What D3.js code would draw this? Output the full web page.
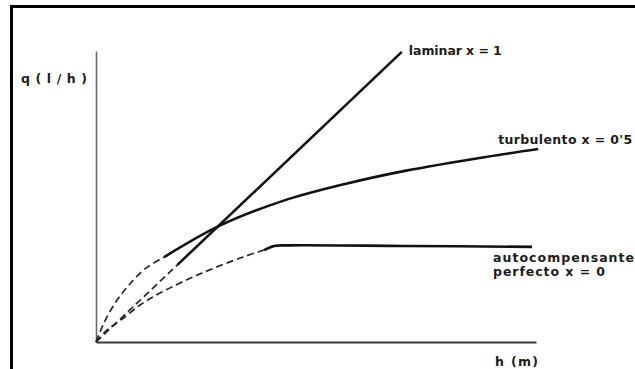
<!DOCTYPE html>
<html>
<head>
<meta charset="utf-8">
<script src="https://cdn.jsdelivr.net/npm/d3@7"></script>
<style>
  html, body { margin: 0; padding: 0; background: #fff; }
  svg { display: block; }
  text { font-family: "DejaVu Sans", sans-serif; font-weight: bold; fill: #1c1c1c; }
</style>
</head>
<body>
<svg id="chart" width="635" height="369"></svg>
<script>
// Caudal q (l/h) frente a presión h (m) para tres tipos de emisor.
// Each curve: dashed start near the origin, then the solid working range.
const laminarDashed = [[0, 0], [1.85, 2.65]];
const laminarSolid  = [[1.85, 2.65], [6.95, 9.97]];

const turbulentDashed = [[0, 0], [0.09, 0.34], [0.25, 0.86], [0.48, 1.44], [0.75, 1.96],
                         [1.11, 2.51], [1.55, 2.92]];
const turbulentSolid  = [[1.55, 2.92], [2.80, 3.99], [4.25, 4.85], [5.66, 5.43],
                         [7.02, 5.88], [8.86, 6.36], [10.05, 6.63]];

const autoDashed = [[0, 0], [0.25, 0.41], [0.57, 0.76], [1.0, 1.27], [1.5, 1.72],
                    [2.41, 2.37], [3.34, 2.92], [3.82, 3.16]];
const autoSolid  = [[3.82, 3.16], [4.05, 3.30], [4.4, 3.32], [7.0, 3.30], [9.91, 3.27]];

const curveLabels = ["laminar  x = 1", "turbulento  x = 0'5", "autocompensante", "perfecto  x = 0"];
const axisTitles = { y: "q ( l / h )", x: "h  (m)" };

const svg = d3.select("#chart");

// page frame
svg.append("rect")
  .attr("x", 11.5).attr("y", 6.5)
  .attr("width", 700).attr("height", 500)
  .attr("fill", "none").attr("stroke", "#000").attr("stroke-width", 3);

const x = d3.scaleLinear().domain([0, 10]).range([96, 536]);
const y = d3.scaleLinear().domain([0, 10]).range([342, 51]);

// axes without ticks
const gx = svg.append("g").attr("transform", `translate(0,${y(0)})`)
  .call(d3.axisBottom(x).tickValues([]).tickSizeOuter(0));
gx.select(".domain").attr("stroke", "#3a3a3a").attr("stroke-width", 2);

const gy = svg.append("g").attr("transform", `translate(${x(0)},0)`)
  .call(d3.axisLeft(y).tickValues([]).tickSizeOuter(0));
gy.select(".domain").attr("stroke", "#6a6a6a").attr("stroke-width", 1.6);

const line = d3.line().x(d => x(d[0])).y(d => y(d[1])).curve(d3.curveCatmullRom.alpha(0.5));

function draw(data, dashed) {
  svg.append("path")
    .datum(data)
    .attr("d", line)
    .attr("fill", "none")
    .attr("stroke", dashed ? "#262626" : "#111")
    .attr("stroke-width", dashed ? 1.7 : 2.6)
    .attr("stroke-linecap", "butt")
    .attr("stroke-dasharray", dashed ? "7,4" : null);
}

[laminarDashed, turbulentDashed, autoDashed].forEach(d => draw(d, true));
[laminarSolid, turbulentSolid, autoSolid].forEach(d => draw(d, false));

function label(txt, px, py, len) {
  svg.append("text")
    .attr("x", px).attr("y", py)
    .attr("font-size", 12.5)
    .attr("textLength", len)
    .attr("lengthAdjust", "spacing")
    .text(txt);
}

const lamEnd = laminarSolid[laminarSolid.length - 1];
const turEnd = turbulentSolid[turbulentSolid.length - 1];
const autEnd = autoSolid[autoSolid.length - 1];

label(curveLabels[0], x(lamEnd[0]) + 7, y(lamEnd[1]) + 3, 93);
label(curveLabels[1], x(turEnd[0]) - 40, y(turEnd[1]) - 5, 134);
label(curveLabels[2], x(autEnd[0]) - 39, y(autEnd[1]) + 15, 141);
label(curveLabels[3], x(autEnd[0]) - 39, y(autEnd[1]) + 29, 112);

label(axisTitles.y, 21, 83, 66);
label(axisTitles.x, 495, 366, 43);
</script>
</body>
</html>
